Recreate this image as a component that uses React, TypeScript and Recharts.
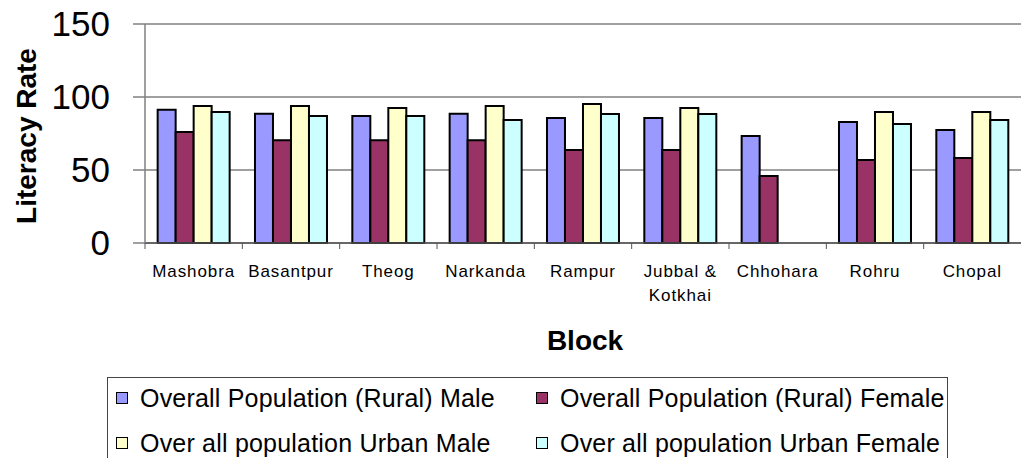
import React from 'react';
import { BarChart, Bar, XAxis, YAxis, CartesianGrid } from 'recharts';

const blocks = ['Mashobra', 'Basantpur', 'Theog', 'Narkanda', 'Rampur', 'Jubbal & Kotkhai', 'Chhohara', 'Rohru', 'Chopal'];
const ruralMale = [91.3, 88.6, 87, 88.6, 85.6, 85.6, 73.3, 82.9, 77.4];
const ruralFemale = [76, 70.3, 70.3, 70.3, 63.7, 63.7, 45.9, 56.8, 58.2];
const urbanMale = [93.8, 93.8, 92.5, 93.8, 95.2, 92.5, null, 89.7, 89.7];
const urbanFemale = [89.7, 87, 87, 84.2, 88.4, 88.4, null, 81.5, 84.2];
const yTicks = [0, 50, 100, 150];

const seriesKeys = ['ruralMale', 'ruralFemale', 'urbanMale', 'urbanFemale'];
const seriesNames = [
  'Overall Population (Rural) Male',
  'Overall Population (Rural) Female',
  'Over all population Urban Male',
  'Over all population Urban Female',
];
const COLORS = ['#9999FF', '#993366', '#FFFFCC', '#CCFFFF'];

const data = blocks.map((name, i) => ({
  name,
  ruralMale: ruralMale[i],
  ruralFemale: ruralFemale[i],
  urbanMale: urbanMale[i],
  urbanFemale: urbanFemale[i],
}));

const FONT = '"Liberation Sans", Arial, sans-serif';
const BAND = 876 / blocks.length;

const BlockTick = (props: any) => {
  const { x, y, payload } = props;
  const text: string = payload.value;
  const lines = text.includes(' & ') ? [text.split(' & ')[0] + ' &', text.split(' & ')[1]] : [text];
  return (
    <g>
      <line x1={x - BAND / 2} x2={x - BAND / 2} y1={y} y2={y + 6} stroke="#555" strokeWidth={1} />
      <text x={x} y={y} textAnchor="middle" fontSize={17} fontFamily={FONT} fill="#000" letterSpacing={0.9}>
        {lines.map((l, i) => (
          <tspan key={i} x={x} dy={i === 0 ? 34 : 24}>{l}</tspan>
        ))}
      </text>
    </g>
  );
};

// legend drawn as plain html under the plot
const LegendBox = () => (
  <div
    style={{
      position: 'absolute',
      left: 107,
      top: 377,
      width: 841,
      height: 100,
      border: '1px solid #444',
      boxSizing: 'border-box',
      background: '#fff',
    }}
  >
    {seriesNames.map((name, i) => (
      <div
        key={name}
        style={{
          position: 'absolute',
          left: i % 2 === 0 ? 8 : 428,
          top: 5 + Math.floor(i / 2) * 45,
          height: 30,
          display: 'flex',
          alignItems: 'center',
          fontFamily: FONT,
          fontSize: 25,
          letterSpacing: 0.2,
          color: '#000',
          whiteSpace: 'nowrap',
        }}
      >
        <span
          style={{
            width: 12,
            height: 12,
            boxSizing: 'border-box',
            border: '1.5px solid #000',
            background: COLORS[i],
            marginRight: 12,
            display: 'inline-block',
          }}
        />
        {name}
      </div>
    ))}
  </div>
);

export default function App() {
  return (
    <div style={{ position: 'absolute', left: 0, top: 0, width: 1021, height: 458, overflow: 'hidden', background: '#fff' }}>
      <BarChart
        width={1021}
        height={458}
        data={data}
        margin={{ top: 24, right: 0, left: 0, bottom: 0 }}
        barCategoryGap="13%"
        barGap={0}
      >
        <CartesianGrid vertical={false} stroke="#808080" strokeWidth={1.5} />
        <XAxis
          dataKey="name"
          height={215}
          interval={0}
          tickLine={false}
          tickSize={0}
          tickMargin={0}
          axisLine={{ stroke: '#555', strokeWidth: 1.5 }}
          tick={<BlockTick />}
          label={{
            content: () => (
              <text x={585} y={350} textAnchor="middle" fontSize={28} fontWeight="bold" fontFamily={FONT} fill="#000">
                Block
              </text>
            ),
          }}
        />
        <YAxis
          width={145}
          domain={[0, 150]}
          ticks={yTicks}
          tickSize={12}
          tickMargin={23}
          axisLine={{ stroke: '#808080', strokeWidth: 1.5 }}
          tickLine={{ stroke: '#808080', strokeWidth: 1.5 }}
          tick={{ fontSize: 35, fill: '#000', fontFamily: FONT }}
          label={{
            content: () => (
              <text x={36} y={136} textAnchor="middle" fontSize={28} fontWeight="bold" fontFamily={FONT} fill="#000" transform="rotate(-90 36 136)">
                Literacy Rate
              </text>
            ),
          }}
        />
        {seriesKeys.map((k, i) => (
          <Bar key={k} dataKey={k} name={seriesNames[i]} fill={COLORS[i]} stroke="#000" strokeWidth={2} isAnimationActive={false} />
        ))}
      </BarChart>
      <LegendBox />
    </div>
  );
}
